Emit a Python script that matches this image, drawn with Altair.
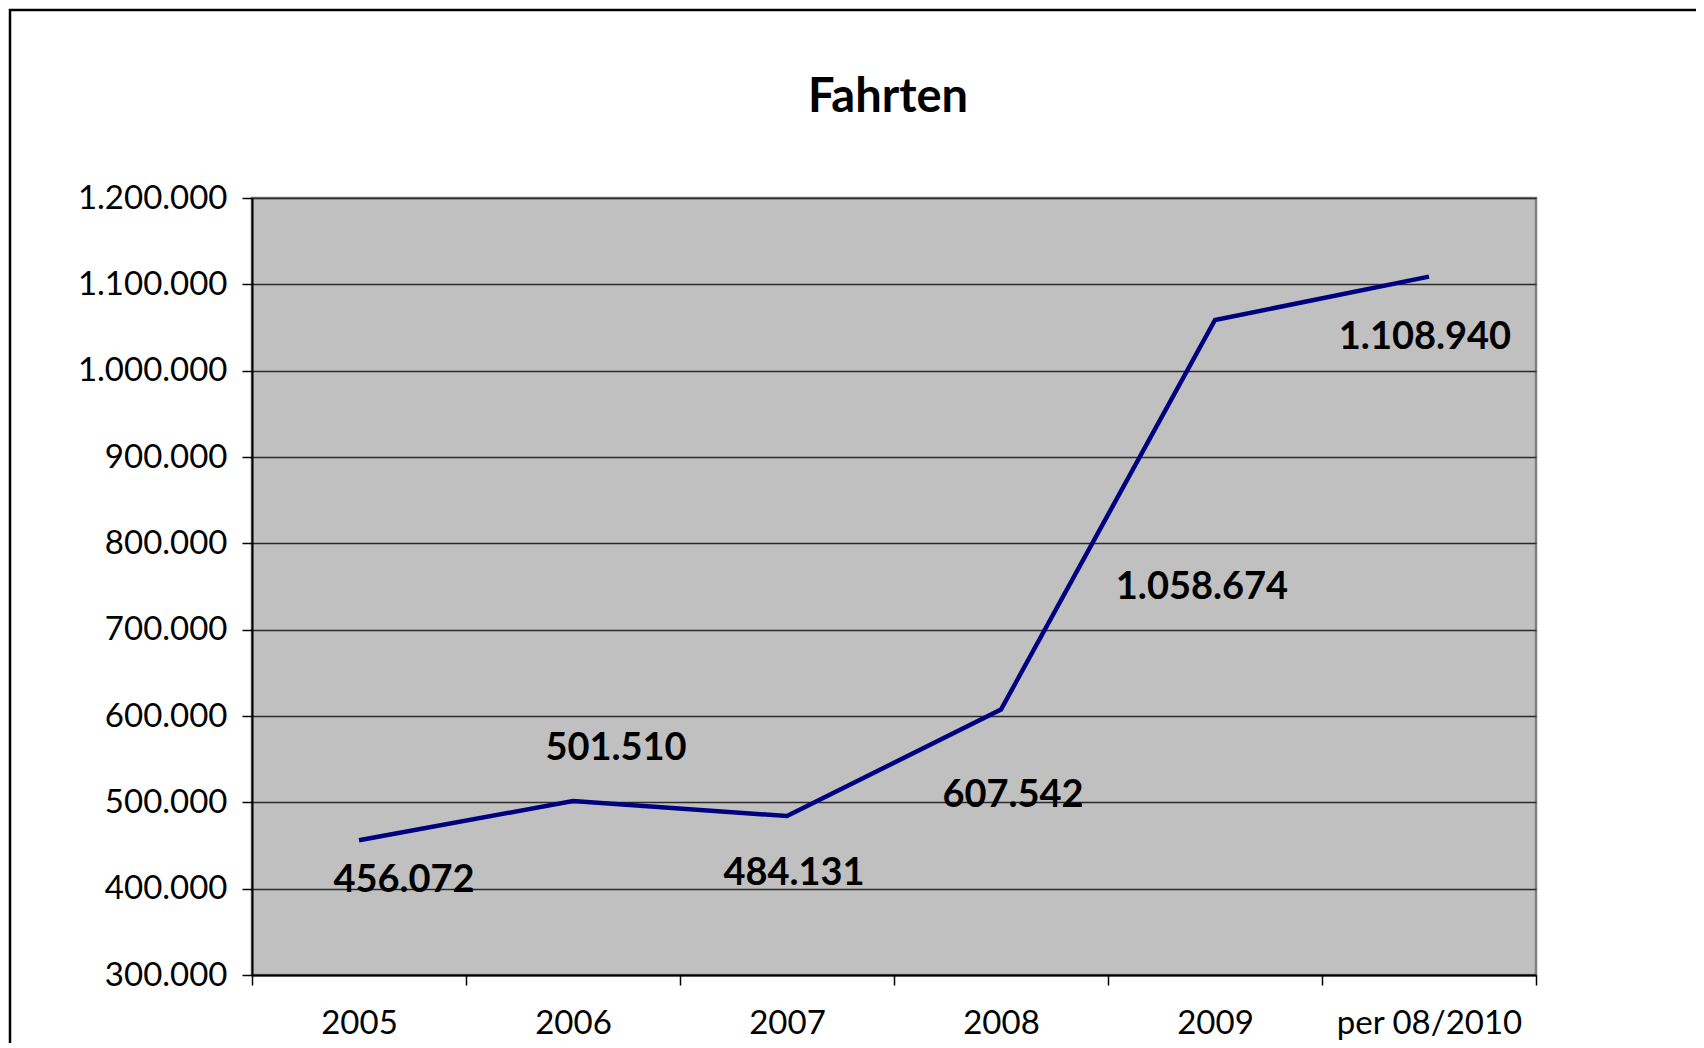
import altair as alt
import pandas as pd

categories = ["2005", "2006", "2007", "2008", "2009", "per 08/2010"]
fahrten = [456072, 501510, 484131, 607542, 1058674, 1108940]
y_ticks = [300000, 400000, 500000, 600000, 700000, 800000, 900000, 1000000, 1100000, 1200000]
title_text = "Fahrten"

df = pd.DataFrame({"Jahr": categories, "Fahrten": fahrten})
df["Label"] = [f"{v:,}".replace(",", ".") for v in fahrten]

W, H = 1284, 777
FONT = "Lato"

x_enc = alt.X(
    "Jahr:N",
    sort=categories,
    scale=alt.Scale(paddingInner=0, paddingOuter=0),
    axis=alt.Axis(
        title=None, labelAngle=0, tickBand="extent", tickSize=10, tickColor="black",
        tickWidth=1.5, domainColor="black", domainWidth=2, labelFont=FONT,
        labelFontSize=33, labelColor="black", labelPadding=22, grid=False,
        labelLimit=400,
    ),
)
y_enc = alt.Y(
    "Fahrten:Q",
    scale=alt.Scale(domain=[300000, 1200000], nice=False, zero=False),
    axis=alt.Axis(
        title=None, values=y_ticks, tickSize=10, tickColor="black", tickWidth=1.5,
        domainColor="black", domainWidth=2, labelFont=FONT, labelFontSize=33,
        labelColor="black", labelPadding=15, grid=True, gridColor="#2a2a2a",
        gridWidth=1.5,
        labelExpr="replace(replace(format(datum.value, ','), ',', '.'), ',', '.')",
    ),
)

base = alt.Chart(df)

one_row = alt.Data(values=[{"t": title_text}])

border = alt.Chart(one_row).mark_rect(
    fill=None, stroke="black", strokeWidth=2.5, clip=False
).encode(
    x=alt.value(-242), x2=alt.value(W + 400), y=alt.value(-188), y2=alt.value(H + 400)
)

title = alt.Chart(one_row).mark_text(
    font=FONT, fontSize=47, fontWeight="bold", color="black",
    align="center", baseline="middle",
).encode(x=alt.value(W / 2 - 6), y=alt.value(-100), text="t:N")

line = base.mark_line(color="#000080", strokeWidth=4.5).encode(x=x_enc, y=y_enc)

offsets = {
    "2005": (45, 41),
    "2006": (43, -52),
    "2007": (7, 58),
    "2008": (12, 87),
    "2009": (-13, 268),
    "per 08/2010": (-4, 61),
}
labels = []
for cat, (dx, dy) in offsets.items():
    labels.append(
        base.transform_filter(alt.datum.Jahr == cat)
        .mark_text(font=FONT, fontSize=38, fontWeight="bold", color="black",
                   align="center", baseline="middle", dx=dx, dy=dy)
        .encode(x=alt.X("Jahr:N", sort=categories), y="Fahrten:Q", text="Label:N")
    )

chart = (
    alt.layer(border, title, line, *labels)
    .properties(
        width=W,
        height=H,
        autosize=alt.AutoSizeParams(type="none"),
        padding={"left": 244, "top": 190, "right": 160, "bottom": 68},
        background="white",
    )
    .configure_view(fill="#c0c0c0", stroke="#808080", strokeWidth=2.5)
)

chart.save("out.html", embed_options={"renderer": "svg", "actions": False})
